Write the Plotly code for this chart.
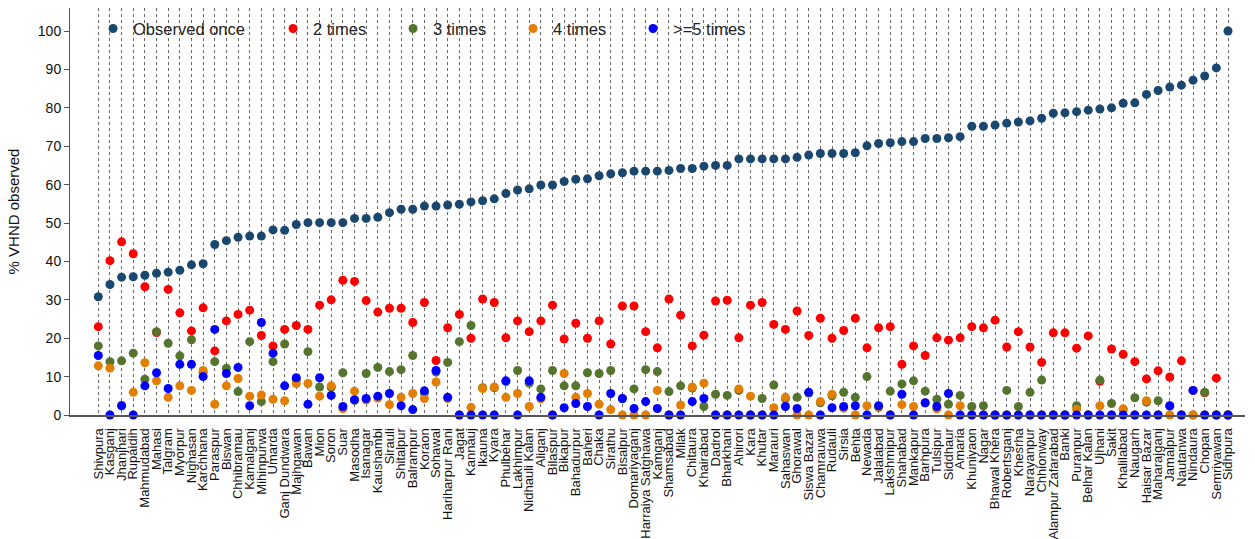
import plotly.graph_objects as go

blocks = [
    "Shivpura", "Kasganj", "Jhanjhari", "Rupaidih", "Mahmudabad", "Mahasi", "Talgram",
    "Myorpur", "Nighasan", "Karchhana", "Paraspur", "Biswan", "Chhibramau", "Kamalganj",
    "Mihinpurwa", "Umarda", "Ganj Dundwara", "Majhgawan", "Bawan", "Mion", "Soron", "Suar",
    "Masodha", "Isanagar", "Kaushambi", "Sirauli", "Shitalpur", "Balrampur", "Koraon",
    "Sohawal", "Hariharpur Rani", "Jagat", "Kannauj", "Ikauna", "Kyara", "Phulbehar",
    "Lakhimpur", "Nidhauli Kalan", "Aliganj", "Bilaspur", "Bikapur", "Bahadurpur", "Baheri",
    "Chaka", "Sirathu", "Bisalpur", "Domariyaganj", "Harraiya Satghawa", "Kamganj",
    "Shamsabad", "Milak", "Chitaura", "Khairabad", "Dadrol", "Bharkhani", "Ahirori", "Kara",
    "Khutar", "Marauri", "Sahaswan", "Ghorawal", "Siswa Bazar", "Chamrauwa", "Rudauli",
    "Sirsia", "Behta", "Newada", "Jalalabad", "Lakshmipur", "Shahabad", "Mankapur",
    "Barhpura", "Tulsipur", "Siddhaur", "Amaria", "Khuniyaon", "Nagar", "Bhawal Khera",
    "Robertsganj", "Khesrha", "Narayanpur", "Chhionway", "Alampur Zafarabad", "Banki",
    "Puranpur", "Belhar Kalan", "Ujhani", "Sakit", "Khalilabad", "Naugarh", "Haisar Bazar",
    "Maharajganj", "Jamalpur", "Nautanwa", "Nindaura", "Chopan", "Semriyawan", "Sidhpura",
]

observed_once = [
    30.8, 34.0, 35.9, 36.0, 36.4, 36.9, 37.2, 37.7, 39.1, 39.4, 44.4, 45.4, 46.3, 46.6,
    46.6, 48.2, 48.1, 49.6, 50.1, 50.1, 50.1, 50.1, 51.2, 51.2, 51.5, 52.7, 53.6, 53.6,
    54.4, 54.4, 54.7, 54.9, 55.5, 55.8, 56.3, 57.7, 58.6, 58.9, 59.9, 59.9, 60.8, 61.4,
    61.5, 62.3, 62.8, 63.1, 63.5, 63.5, 63.5, 63.7, 64.2, 64.2, 64.8, 65.0, 65.0, 66.7,
    66.7, 66.7, 66.7, 66.7, 67.1, 67.7, 68.1, 68.1, 68.1, 68.3, 70.1, 70.7, 70.9, 71.2,
    71.2, 72.0, 72.0, 72.2, 72.5, 75.2, 75.2, 75.5, 76.0, 76.3, 76.6, 77.3, 78.6, 78.7,
    79.0, 79.4, 79.7, 80.0, 81.2, 81.3, 83.5, 84.5, 85.4, 85.9, 87.2, 88.3, 90.4, 100.0,
]

two_times = [
    23.0, 40.2, 45.1, 42.0, 33.4, 21.5, 32.7, 26.6, 21.9, 27.9, 16.7, 24.5, 26.2, 27.3,
    20.7, 18.0, 22.3, 23.3, 22.3, 28.6, 30.0, 35.1, 34.8, 29.8, 26.8, 27.8, 27.8, 24.1,
    29.3, 14.2, 22.7, 26.2, 20.0, 30.2, 29.3, 20.1, 24.5, 21.7, 24.5, 28.6, 19.8, 23.9,
    20.0, 24.5, 18.5, 28.4, 28.4, 21.7, 17.5, 30.2, 26.0, 18.0, 20.8, 29.7, 29.9, 20.1,
    28.6, 29.3, 23.6, 22.3, 27.1, 20.7, 25.2, 20.0, 22.0, 25.2, 17.5, 22.7, 23.0, 13.2,
    18.0, 15.5, 20.1, 19.5, 20.1, 23.0, 22.7, 24.7, 17.7, 21.7, 17.7, 13.7, 21.4, 21.4,
    17.4, 20.6, 8.8, 17.2, 15.8, 13.9, 9.4, 11.5, 9.9, 14.1, 6.4, 5.8, 9.6, 0.0,
]

three_times = [
    18.0, 13.9, 14.1, 16.1, 9.3, 21.7, 18.7, 15.4, 19.6, 11.1, 13.9, 12.2, 6.1, 19.1,
    3.5, 13.9, 18.5, 9.2, 16.5, 7.3, 7.2, 11.0, 3.8, 10.8, 12.4, 11.3, 11.8, 15.5,
    5.7, 11.2, 13.7, 19.1, 23.3, 7.1, 7.1, 8.7, 11.6, 8.3, 6.8, 11.6, 7.6, 7.6,
    11.0, 10.8, 11.6, 4.2, 6.8, 11.8, 11.3, 6.1, 7.6, 7.0, 2.2, 5.4, 5.1, 6.4,
    0.0, 4.3, 7.8, 4.2, 4.6, 5.7, 3.2, 5.0, 5.9, 4.6, 10.0, 2.0, 6.2, 8.1,
    8.9, 6.2, 4.1, 2.8, 5.1, 2.2, 2.4, 0.0, 6.4, 2.2, 5.9, 9.1, 0.0, 0.0,
    2.4, 0.0, 9.1, 3.0, 1.4, 4.5, 3.4, 3.7, 2.3, 0.0, 0.0, 5.9, 0.0, 0.0,
]

four_times = [
    12.8, 12.2, 2.5, 5.9, 13.6, 8.9, 4.6, 7.6, 6.4, 11.6, 2.8, 7.6, 9.5, 4.9,
    5.2, 4.1, 3.7, 8.2, 8.2, 4.9, 7.6, 1.6, 6.2, 3.9, 4.4, 2.7, 4.6, 5.6,
    4.3, 8.6, 4.3, 0.0, 2.0, 6.9, 7.3, 4.6, 5.6, 2.2, 4.2, 0.0, 10.8, 4.6,
    5.6, 2.8, 1.4, 0.0, 0.0, 0.0, 6.4, 0.0, 2.6, 7.3, 8.3, 0.0, 0.0, 6.8,
    4.9, 0.0, 1.9, 4.6, 0.0, 0.0, 3.5, 5.4, 1.8, 0.0, 2.4, 2.2, 0.0, 2.7,
    2.2, 3.1, 1.6, 0.0, 2.4, 0.0, 0.0, 0.0, 0.0, 0.0, 0.0, 0.0, 0.0, 0.0,
    1.5, 0.0, 2.4, 0.0, 1.6, 0.0, 3.7, 0.0, 0.0, 0.0, 0.0, 0.0, 0.0, 0.0,
]

five_plus = [
    15.5, 0.0, 2.4, 0.0, 7.6, 11.0, 6.9, 13.2, 13.2, 10.0, 22.3, 10.8, 12.4, 2.4,
    24.1, 16.1, 7.6, 9.7, 2.8, 9.7, 5.1, 2.2, 4.0, 4.3, 4.9, 5.6, 2.4, 1.4,
    6.3, 11.6, 4.6, 0.0, 0.0, 0.0, 0.0, 8.9, 0.0, 8.9, 4.6, 0.0, 1.9, 3.0,
    2.2, 0.0, 5.6, 4.3, 1.7, 3.5, 1.7, 0.0, 0.0, 3.5, 4.3, 0.0, 0.0, 0.0,
    0.0, 0.0, 0.0, 2.2, 1.7, 5.9, 0.0, 1.9, 2.2, 2.4, 0.0, 2.4, 0.0, 5.4,
    0.0, 3.2, 2.2, 5.6, 0.0, 0.0, 0.0, 0.0, 0.0, 0.0, 0.0, 0.0, 0.0, 0.0,
    0.0, 0.0, 0.0, 0.0, 0.0, 0.0, 0.0, 0.0, 2.4, 0.0, 6.4, 0.0, 0.0, 0.0,
]

series = [
    ("Observed once", observed_once, "#1a476f", 135),
    ("2 times", two_times, "#ff0000", 75),
    ("3 times", three_times, "#55752f", 75),
    ("4 times", four_times, "#e37e00", 75),
    (">=5 times", five_plus, "#0000ff", 75),
]

fig = go.Figure()
for name, values, color, lw in series:
    fig.add_trace(go.Scatter(
        x=blocks, y=values, mode="markers", name=name,
        marker=dict(color=color, size=9, line=dict(width=0)),
        cliponaxis=False, legendwidth=lw,
    ))

font_family = "Liberation Sans, Arial, sans-serif"
fig.update_layout(
    width=1255, height=539,
    margin=dict(l=70, r=10, t=8, b=124),
    paper_bgcolor="white", plot_bgcolor="white",
    font=dict(family=font_family, color="#000000"),
    showlegend=True,
    legend=dict(
        orientation="h", x=0.0196, y=0.992, xanchor="left", yanchor="top",
        bgcolor="rgba(255,255,255,0)", font=dict(size=16.5, color="#222222"),
        itemwidth=30, entrywidthmode="pixels",
    ),
    xaxis=dict(
        type="category", range=[-2.43, 98.46], automargin=False,
        tickmode="linear", tick0=0, dtick=1,
        showgrid=True, gridcolor="#666666", griddash="dot", gridwidth=1,
        showline=True, linecolor="#555555", linewidth=2,
        tickangle=-90, tickfont=dict(size=13, color="#111111"),
        ticks="", ticklabelstandoff=6, zeroline=False,
    ),
    yaxis=dict(
        range=[0, 106], tickvals=list(range(0, 101, 10)), automargin=False,
        showgrid=False, zeroline=False,
        showline=True, linecolor="#555555", linewidth=1,
        ticks="outside", ticklen=5, tickcolor="#555555",
        tickfont=dict(size=14, color="#111111"),
        title=dict(text="% VHND observed", font=dict(size=15, color="#111111"), standoff=14),
    ),
)

fig.write_html("out.html")
